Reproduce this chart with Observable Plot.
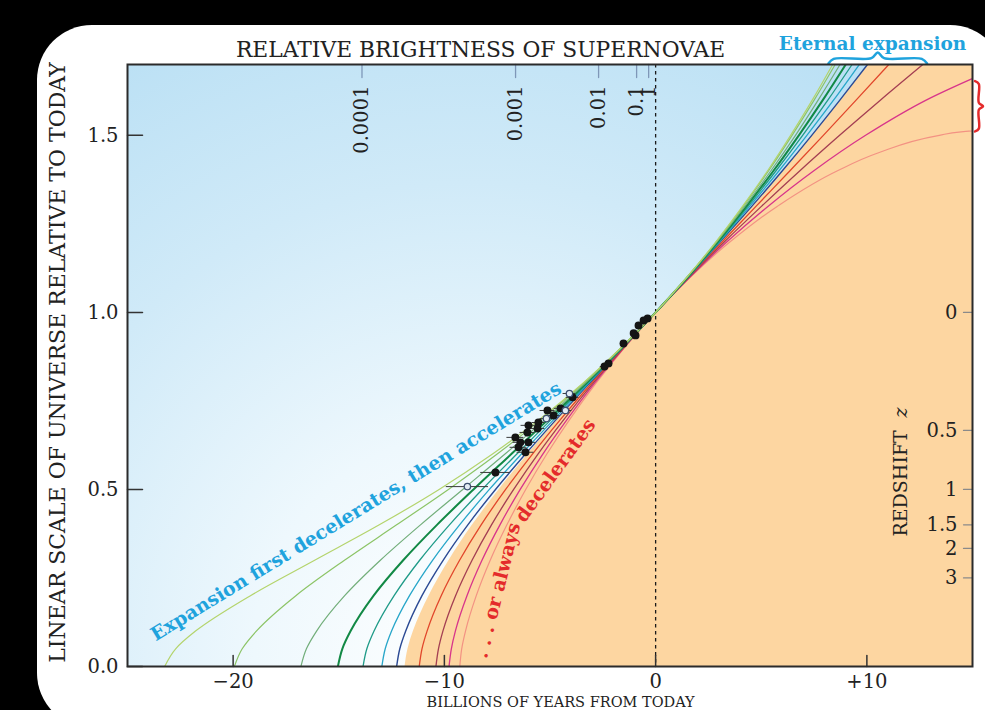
<!DOCTYPE html>
<html>
<head>
<meta charset="utf-8">
<script src="https://cdn.jsdelivr.net/npm/d3@7"></script>
<script src="https://cdn.jsdelivr.net/npm/@observablehq/plot@0.6"></script>
<style>
html,body{margin:0;padding:0;background:#000;width:985px;height:710px;overflow:hidden;}
#card{position:absolute;left:37px;top:25px;width:968px;height:703px;background:#fff;border-radius:55px;}
#chart{position:absolute;left:0;top:0;}
</style>
</head>
<body>
<div id="card"></div>
<div id="chart"></div>
<script>
// ---------- data ----------
const xDomain = [-25, 15];          // billions of years from today
const yDomain = [0, 1.7];           // linear scale of universe relative to today
const xTicks = [-20, -10, 0, 10];
const yTicks = [0, 0.5, 1, 1.5];

// scale factor levels at which model times were read
const scaleLevels = [0,0.05,0.1,0.2,0.3,0.4,0.5,0.6,0.7,0.8,0.9,1,1.1,1.2,1.3,1.4,1.5,1.6,1.7];
const timeOm005 = [-23.24,-22.72,-21.78,-19.18,-16.14,-13.08,-10.25,-7.72,-5.46,-3.44,-1.64,0,1.49,2.86,4.12,5.30,6.39,7.42,8.38];
const timeOm01  = [-19.94,-19.57,-18.90,-17.03,-14.73,-12.26,-9.81,-7.50,-5.36,-3.41,-1.63,0,1.50,2.88,4.16,5.35,6.46,7.51,8.50];
const timeOm02  = [-16.79,-16.53,-16.05,-14.72,-13.03,-11.13,-9.13,-7.13,-5.19,-3.34,-1.62,0,1.51,2.91,4.23,5.46,6.62,7.70,8.73];
const timeOm03  = [-15.04,-14.83,-14.44,-13.35,-11.95,-10.35,-8.62,-6.83,-5.04,-3.29,-1.60,0,1.52,2.95,4.30,5.58,6.78,7.92,9.00];
const timeOm04  = [-13.85,-13.67,-13.33,-12.38,-11.17,-9.76,-8.21,-6.57,-4.90,-3.23,-1.59,0,1.53,2.99,4.38,5.70,6.96,8.16,9.30];
const timeOm05  = [-12.96,-12.80,-12.50,-11.65,-10.56,-9.28,-7.87,-6.35,-4.78,-3.18,-1.58,0,1.54,3.03,4.46,5.84,7.16,8.43,9.64];
const timeOm06  = [-12.26,-12.11,-11.83,-11.06,-10.06,-8.89,-7.58,-6.16,-4.67,-3.13,-1.57,0,1.55,3.07,4.56,6.00,7.39,8.73,10.03];
const timeOm08  = [-11.19,-11.06,-10.82,-10.15,-9.28,-8.26,-7.10,-5.83,-4.47,-3.04,-1.54,0,1.57,3.17,4.76,6.36,7.94,9.50,11.04];
const timeOm10  = [-10.40,-10.28,-10.07,-9.47,-8.69,-7.77,-6.72,-5.57,-4.31,-2.96,-1.52,0,1.60,3.27,5.02,6.83,8.71,10.65,12.65];
const timeOm12  = [-9.78,-9.67,-9.48,-8.93,-8.22,-7.37,-6.41,-5.34,-4.16,-2.89,-1.50,0,1.63,3.39,5.33,7.49,9.94,12.83,16.53];
const levelsOm14 = [0,0.05,0.1,0.2,0.3,0.4,0.5,0.6,0.7,0.8,0.9,1,1.1,1.2,1.3,1.4,1.45,1.5,1.51,1.518];
const timeOm14  = [-9.27,-9.18,-9.00,-8.49,-7.83,-7.04,-6.15,-5.15,-4.04,-2.82,-1.48,0,1.65,3.54,5.77,8.61,10.52,13.43,14.46,16.56];
// left edge of the "decelerating" (orange) region
const boundaryTime = [-11.86,-11.72,-11.46,-10.72,-9.77,-8.66,-7.40,-6.04,-4.60,-3.10,-1.56,0,1.56,3.10,4.60,6.05,7.45,8.78,10.08];

// supernova measurements
const snTime  = [-0.38,-0.57,-0.81,-0.95,-1.04,-1.52,-2.23,-2.42,-3.93,-4.08,-4.27,-4.50,-4.83,-5.12,-5.17,-5.55,-5.59,-6.02,-6.07,-6.02,-6.40,-6.64,-6.49,-6.16,-7.58,-8.91];
const snScale = [0.983,0.977,0.963,0.935,0.941,0.912,0.856,0.847,0.760,0.771,0.723,0.729,0.709,0.723,0.700,0.689,0.672,0.681,0.661,0.633,0.633,0.647,0.619,0.605,0.548,0.508];
const snErr   = [0.1,0.1,0.1,0.1,0.1,0.15,0.2,0.2,0.3,0.3,0.3,0.3,0.3,0.35,0.3,0.3,0.35,0.35,0.35,0.35,0.35,0.4,0.4,0.4,0.7,1.0];
const snOpen  = [0,0,0,0,0,0,0,0,0,1,1,0,0,0,1,0,0,0,0,0,0,0,0,0,0,1];

// top axis: relative brightness of supernovae
const brightnessLabels = ["0.0001","0.001","0.01","0.1","1"];
const brightnessTime   = [-13.9,-6.63,-2.70,-0.90,-0.33];
// right axis: redshift z
const redshiftLabels = [0, 0.5, 1, 1.5, 2, 3];
// range of scale reached at the right edge by the re-collapsing models
const collapseRange = [1.511, 1.653];

// ---------- styling ----------
const models = [
  {time: timeOm14, levels: levelsOm14, color: "#f39283", width: 1.2},
  {time: timeOm12, levels: scaleLevels, color: "#d8358a", width: 1.3},
  {time: timeOm10, levels: scaleLevels, color: "#a43e52", width: 1.3},
  {time: timeOm08, levels: scaleLevels, color: "#e1462b", width: 1.3},
  {time: timeOm06, levels: scaleLevels, color: "#2b4a94", width: 1.4},
  {time: timeOm05, levels: scaleLevels, color: "#27a6c9", width: 1.3},
  {time: timeOm04, levels: scaleLevels, color: "#1f9b88", width: 1.3},
  {time: timeOm03, levels: scaleLevels, color: "#128945", width: 2.0},
  {time: timeOm02, levels: scaleLevels, color: "#72ae7a", width: 1.2},
  {time: timeOm01, levels: scaleLevels, color: "#8cc466", width: 1.2},
  {time: timeOm005, levels: scaleLevels, color: "#b4d46c", width: 1.2}
];
const blue = "#1fa3dd", red = "#e42b2b", ink = "#222";

// plain tick stroke (no arrow head) for vector marks
const tickShape = {draw(context, l) { context.moveTo(0, 0); context.lineTo(0, -l); }};

const lineMarks = models.map(m => Plot.line(
  m.time.map((t, i) => ({t, a: m.levels[i]})),
  {x: "t", y: "a", stroke: m.color, strokeWidth: m.width, curve: "monotone-y", clip: true}
));

const snIdx = d3.range(snTime.length);
const fmtX = d => d > 0 ? "+" + d : d < 0 ? "\u2212" + (-d) : "0";

// braces derived from the curves they group
const yTop = yDomain[1];
const bx0 = timeOm005[timeOm005.length - 1] - 0.2;
const bx1 = timeOm10[timeOm10.length - 1] + 0.2;
const bm = (bx0 + bx1) / 2;
const braceTop = [
  {t: bx0, a: yTop + 0.003}, {t: bx0 + 0.25, a: yTop + 0.016}, {t: bm - 0.3, a: yTop + 0.018},
  {t: bm, a: yTop + 0.034}, {t: bm + 0.3, a: yTop + 0.018}, {t: bx1 - 0.25, a: yTop + 0.016}, {t: bx1, a: yTop + 0.003}
];
const xRight = xDomain[1];
const cm = (collapseRange[0] + collapseRange[1]) / 2;
const braceRight = [
  {t: xRight + 0.12, a: collapseRange[1]}, {t: xRight + 0.3, a: collapseRange[1] - 0.008}, {t: xRight + 0.3, a: cm + 0.01},
  {t: xRight + 0.5, a: cm}, {t: xRight + 0.3, a: cm - 0.01}, {t: xRight + 0.3, a: collapseRange[0] + 0.008}, {t: xRight + 0.12, a: collapseRange[0]}
];

const svg = Plot.plot({
  width: 985,
  height: 710,
  marginLeft: 127,
  marginRight: 13,
  marginTop: 64,
  marginBottom: 44,
  x: {domain: xDomain, axis: null},
  y: {domain: yDomain, axis: null},
  style: {background: "transparent", fontFamily: "DejaVu Serif", fontSize: "19.5px", color: ink, overflow: "visible"},
  marks: [
    Plot.frame({fill: "url(#skyGrad)"}),
    Plot.areaX(scaleLevels, {y: d => d, x1: (d, i) => boundaryTime[i], x2: () => xDomain[1], fill: "#fdd6a1", curve: "monotone-y"}),
    Plot.ruleX([0], {stroke: "#1a1a1a", strokeWidth: 1.3, strokeDasharray: "3.5,3.5"}),
    ...lineMarks,
    Plot.ruleY(snIdx, {y: i => snScale[i], x1: i => snTime[i] - snErr[i], x2: i => snTime[i] + snErr[i], stroke: "#3a3a3a", strokeWidth: 1}),
    Plot.dot(snIdx.filter(i => !snOpen[i]), {x: i => snTime[i], y: i => snScale[i], r: 3.2, fill: "#151515", stroke: "#151515"}),
    Plot.dot(snIdx.filter(i => snOpen[i]), {x: i => snTime[i], y: i => snScale[i], r: 3.2, fill: "#e4edf5", stroke: "#3d5070", strokeWidth: 1.3}),
    // top axis: brightness
    Plot.vector(brightnessTime, {x: d => d, y: yDomain[1], length: 13, rotate: 180, anchor: "start", shape: tickShape, stroke: "#7f97b8", strokeWidth: 1.3}),
    Plot.text(brightnessTime, {x: d => d, y: yDomain[1], text: (d, i) => brightnessLabels[i], rotate: -90, textAnchor: "end", lineAnchor: "middle", dy: 21, fill: ink}),
    // right axis: redshift
    Plot.vector(redshiftLabels, {x: xDomain[1], y: z => 1 / (1 + z), length: 9, rotate: -90, anchor: "start", shape: tickShape, stroke: "#8a8a8a", strokeWidth: 1.2}),
    Plot.text(redshiftLabels, {x: xDomain[1], y: z => 1 / (1 + z), text: z => String(z), textAnchor: "end", lineAnchor: "middle", dx: -15, fill: ink}),
    Plot.text(["REDSHIFT"], {x: 11.59, y: 0.517, text: d => d, rotate: -90, textAnchor: "middle", lineAnchor: "middle", fontSize: 19, fill: ink}),
    Plot.text(["z"], {x: 11.59, y: 0.717, text: d => d, rotate: -90, textAnchor: "middle", lineAnchor: "middle", fontSize: 19, fontStyle: "italic", fill: ink}),
    // left & bottom axes
    Plot.vector(yTicks, {x: xDomain[0], y: d => d, length: 15, rotate: 90, anchor: "start", shape: tickShape, stroke: "#333", strokeWidth: 1.5}),
    Plot.vector(xTicks, {x: d => d, y: yDomain[0], length: 11, rotate: 0, anchor: "start", shape: tickShape, stroke: "#333", strokeWidth: 1.5}),
    Plot.axisY({ticks: yTicks, tickSize: 0, tickPadding: 9, tickFormat: d3.format(".1f"), label: null, fill: ink}),
    Plot.axisX({ticks: xTicks, tickSize: 0, tickPadding: 8, tickFormat: fmtX, label: null, fill: ink}),
    // titles
    Plot.text(["RELATIVE BRIGHTNESS OF SUPERNOVAE"], {x: -8.29, y: yDomain[1], text: d => d, dy: -8, lineAnchor: "bottom", fontSize: 21.8, fill: ink}),
    Plot.text(["LINEAR SCALE OF UNIVERSE RELATIVE TO TODAY"], {x: xDomain[0], y: 0.8585, text: d => d, dx: -70, rotate: -90, textAnchor: "middle", lineAnchor: "middle", fontSize: 22, fill: ink}),
    Plot.text(["BILLIONS OF YEARS FROM TODAY"], {x: -4.5, y: yDomain[0], text: d => d, dy: 40, lineAnchor: "bottom", fontSize: 14.5, fill: ink}),
    // annotations
    Plot.text(["Eternal expansion"], {x: 10.27, y: yDomain[1], text: d => d, dy: -15, lineAnchor: "bottom", fontSize: 18.5, fontWeight: "bold", fill: blue}),
    Plot.line(braceTop, {x: "t", y: "a", stroke: blue, strokeWidth: 2.5, curve: "catmull-rom"}),
    Plot.line(braceRight, {x: "t", y: "a", stroke: red, strokeWidth: 2.5, curve: "catmull-rom"}),
    Plot.text(["Expansion first decelerates, then accelerates"], {x: -14.18, y: 0.4377, text: d => d, rotate: -31.5, textAnchor: "middle", lineAnchor: "middle", fontSize: 19, fontWeight: "bold", fill: blue}),
    Plot.text([". . . or always"], {x: -7.48, y: 0.2146, text: d => d, rotate: -76, textAnchor: "middle", lineAnchor: "middle", fontSize: 19, fontWeight: "bold", fill: red}),
    Plot.text(["decelerates"], {x: -4.74, y: 0.5535, text: d => d, rotate: -54, textAnchor: "middle", lineAnchor: "middle", fontSize: 19, fontWeight: "bold", fill: red}),
    Plot.frame({stroke: "#2b2b2b", strokeWidth: 2})
  ]
});

// gradient used by the sky-blue background
const NS = "http://www.w3.org/2000/svg";
const defs = document.createElementNS(NS, "defs");
const grad = document.createElementNS(NS, "radialGradient");
grad.setAttribute("id", "skyGrad");
grad.setAttribute("gradientUnits", "userSpaceOnUse");
grad.setAttribute("cx", "470"); grad.setAttribute("cy", "650"); grad.setAttribute("r", "720");
[[0, "#ffffff"], [0.3, "#eef8fd"], [0.65, "#d0eaf8"], [1, "#b8dff4"]].forEach(([o, c]) => {
  const s = document.createElementNS(NS, "stop");
  s.setAttribute("offset", o); s.setAttribute("stop-color", c);
  grad.appendChild(s);
});
defs.appendChild(grad);
svg.insertBefore(defs, svg.firstChild);
document.getElementById("chart").appendChild(svg);
</script>
</body>
</html>
